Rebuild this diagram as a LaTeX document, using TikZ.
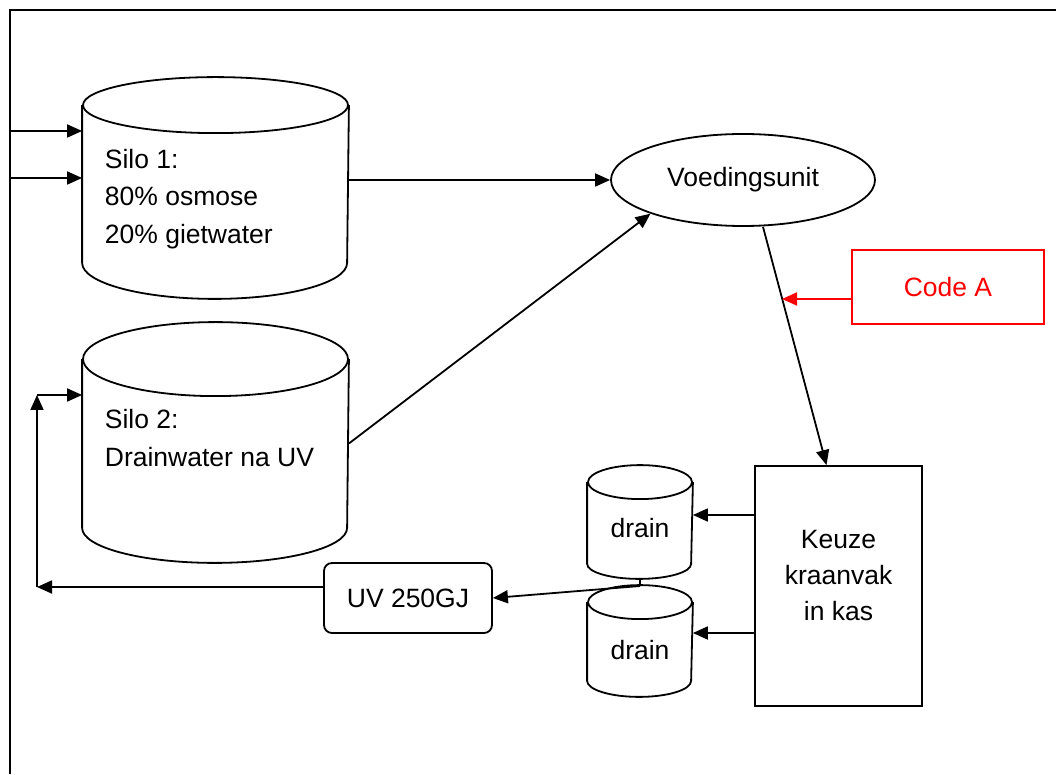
\documentclass[tikz,border=0pt]{standalone}
\usepackage{fontspec}
\setmainfont{Liberation Sans}
\usetikzlibrary{shapes.geometric,arrows.meta}

\tikzset{
  >={Triangle[length=15pt,width=13pt]},
  txt/.style={font=\fontsize{26.5}{37.5}\selectfont, inner sep=0pt},
  body/.style={minimum width=#1, inner sep=0pt},
}

\begin{document}
\begin{tikzpicture}[x=1pt,y=1pt,line width=1.8pt]
            \useasboundingbox (0,0) rectangle (1056,774);
            \draw (10,0) -- (10,764) -- (1056,764);

            % silos
            \node (silo1) [body=265pt, minimum height=156pt] at (215.5,590) {};
            \draw (silo1.north west) -- (silo1.south west) arc[start angle=180, end angle=360, x radius=132.5, y radius=36] -- (silo1.north east);
            \draw (silo1.north) ellipse [x radius=132.5, y radius=28];
            \node (silo1txt) [txt, align=left, anchor=west] at (104,575) {Silo 1:\\80\% osmose\\20\% gietwater};

            \node (silo2) [body=265pt, minimum height=167pt] at (215.5,330.5) {};
            \draw (silo2.north west) -- (silo2.south west) arc[start angle=180, end angle=360, x radius=132.5, y radius=35] -- (silo2.north east);
            \draw (silo2.north) ellipse [x radius=132.5, y radius=37];
            \node (silo2txt) [txt, align=left, anchor=west] at (104,336) {Silo 2:\\Drainwater na UV};

            % drain tanks
            \node (drain1) [body=104pt, minimum height=80pt] at (640,251) {};
            \draw (drain1.north west) -- (drain1.south west) arc[start angle=180, end angle=360, x radius=52, y radius=15] -- (drain1.north east);
            \draw (drain1.north) ellipse [x radius=52, y radius=17];
            \node (drain1txt) [txt] at (640,246) {drain};

            \node (drain2) [body=104pt, minimum height=77pt] at (640,132.5) {};
            \draw (drain2.north west) -- (drain2.south west) arc[start angle=180, end angle=360, x radius=52, y radius=16] -- (drain2.north east);
            \draw (drain2.north) ellipse [x radius=52, y radius=17];
            \node (drain2txt) [txt] at (640,124) {drain};

            \node (vood) [txt, ellipse, draw, minimum width=264pt, minimum height=92pt] at (743,594) {Voedingsunit};
            \node (keuze) [draw, minimum width=167pt, minimum height=240pt] at (838.5,188) {};
            \node (keuzetxt) [txt, align=center, font=\fontsize{26.5}{36}\selectfont] at (838.5,198) {Keuze\\kraanvak\\in kas};
            \node (uv) [txt, draw, rounded corners=8pt, minimum width=168pt, minimum height=70pt] at (408,176) {UV 250GJ};
            \node (codea) [txt, draw=red, text=red, minimum width=192pt, minimum height=74pt] at (948,487) {Code A};

            \coordinate (codehit) at (782,475);
            \coordinate (drainjoin) at (640,188);
            \coordinate (loopbot) at (37,187);
            \coordinate (looptop) at (37,379);

            % flows
            \draw[->] (10,643) -- (silo1.west |- 0,643);
            \draw[->] (10,596) -- (silo1.west |- 0,596);
            \draw[->] (silo1.east |- vood.west) -- (vood.west);
            \draw[->] (silo2.east) -- (vood.200);
            \draw[->] ([xshift=20pt]vood.south) -- ([xshift=-12pt]keuze.north);
            \draw[->, red] ([yshift=-12pt]codea.west) -- (codehit);
            \draw[->] (keuze.west |- 0,259) -- (drain1.east |- 0,259);
            \draw[->] (keuze.west |- 0,141) -- (drain2.east |- 0,141);
            \draw (drain1.south |- 0,196) -- (drainjoin);
            \draw[->] (drainjoin) -- (uv.east);
            \draw[->] ([yshift=11pt]uv.west) -- (loopbot);
            \draw[->] (loopbot) -- (looptop);
            \draw[->] (looptop) -- (silo2.west |- looptop);
        \end{tikzpicture}
\end{document}
